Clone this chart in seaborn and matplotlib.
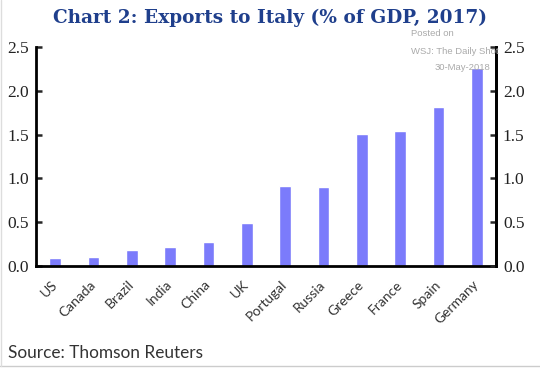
import matplotlib
matplotlib.use("Agg")
import matplotlib.pyplot as plt
import seaborn as sns
import pandas as pd
from matplotlib.lines import Line2D

countries = ["US", "Canada", "Brazil", "India", "China", "UK", "Portugal",
             "Russia", "Greece", "France", "Spain", "Germany"]
values = [0.09, 0.10, 0.18, 0.22, 0.27, 0.49, 0.91, 0.90, 1.51, 1.54, 1.82, 2.26]
yticks = [0.0, 0.5, 1.0, 1.5, 2.0, 2.5]
ytick_labels = ["0.0", "0.5", "1.0", "1.5", "2.0", "2.5"]

title = "Chart 2: Exports to Italy (% of GDP, 2017)"
source = "Source: Thomson Reuters"

sns.set_style("white")
plt.rcParams["font.family"] = ["DejaVu Sans"]

df = pd.DataFrame({"country": countries, "value": values})

fig = plt.figure(figsize=(5.40, 3.74), dpi=100)
ax = fig.add_axes([36/540, 1 - 266/374, (496-36)/540, (266-47)/374])

sns.barplot(data=df, x="country", y="value", color="#7b7bfb", saturation=1,
            width=0.31, ax=ax)

ax.set_ylim(0, 2.5)
ax.set_xlim(-0.5, len(countries) - 0.5)
ax.set_xlabel("")
ax.set_ylabel("")
ax.set_yticks(yticks)
ax.set_yticklabels(ytick_labels, family="Liberation Serif", fontsize=12.5, color="#222222")
ax.set_xticks(range(len(countries)))
ax.set_xticklabels(countries, rotation=45, ha="right", va="center", rotation_mode="anchor",
                   family="Lato", fontsize=10, color="#333333")
ax.tick_params(axis="x", length=0, pad=12)
ax.tick_params(axis="y", direction="in", length=4, width=1.8, pad=5)

for s in ["left", "right", "bottom"]:
    ax.spines[s].set_visible(True)
    ax.spines[s].set_color("black")
    ax.spines[s].set_linewidth(2)
ax.spines["top"].set_visible(False)

ax2 = ax.twinx()
ax2.set_ylim(0, 2.5)
ax2.set_yticks(yticks)
ax2.set_yticklabels(ytick_labels, family="Liberation Serif", fontsize=12.5, color="#222222")
ax2.tick_params(axis="y", direction="in", length=4, width=1.8, pad=5)
for s in ["left", "top", "bottom"]:
    ax2.spines[s].set_visible(False)
ax2.spines["right"].set_color("black")
ax2.spines["right"].set_linewidth(2)

fig.text(0.5, 1 - 18/374, title, ha="center", va="center", family="DejaVu Serif",
         fontweight="bold", fontsize=13.3, color="#1f3f8c")
fig.text(8/540, 1 - 353/374, source, ha="left", va="center", family="Lato",
         fontsize=12.4, color="#333333")

wm = dict(family="Liberation Sans", fontsize=6.8, color="#aaaaaa", va="center")
fig.text(411/540, 1 - 34/374, "Posted on", ha="left", **wm)
fig.text(411/540, 1 - 51/374, "WSJ: The Daily Shot", ha="left", **wm)
fig.text(490/540, 1 - 67/374, "30-May-2018", ha="right", **wm)

# light frame bottom
fig.add_artist(Line2D([0, 1], [1 - 366/374, 1 - 366/374], transform=fig.transFigure,
                      color="#cccccc", linewidth=1))
fig.add_artist(Line2D([1/540, 1/540], [1 - 366/374, 1], transform=fig.transFigure,
                      color="#dddddd", linewidth=1))

fig.savefig("out.png", dpi=100)
